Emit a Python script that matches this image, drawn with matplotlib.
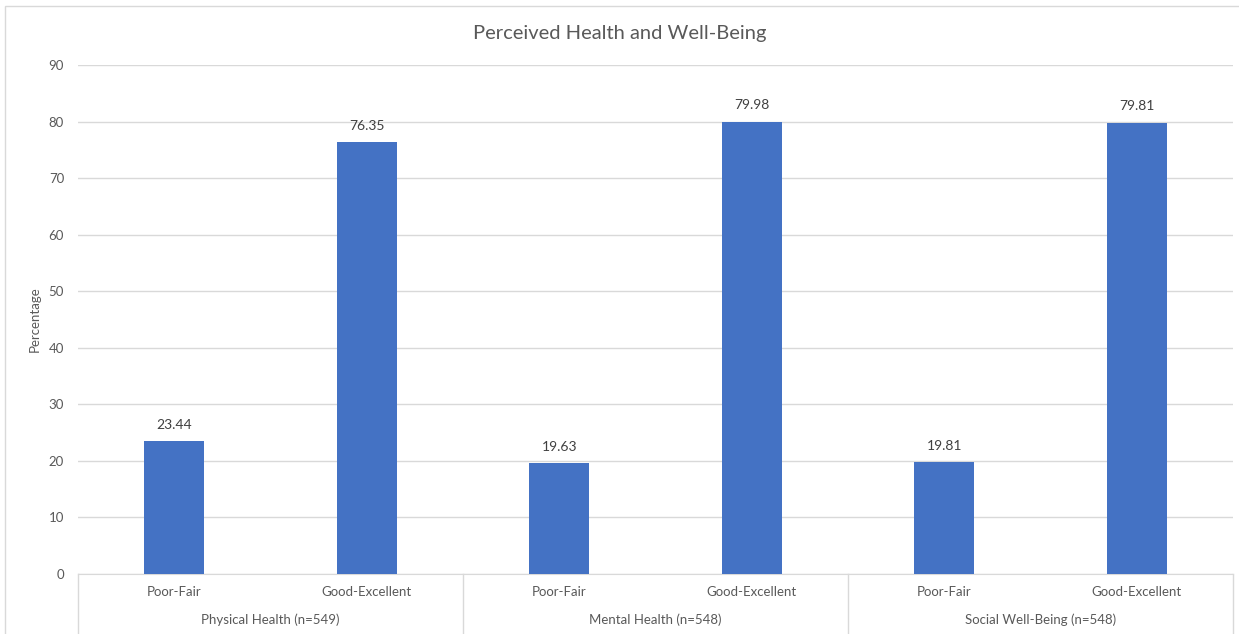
import matplotlib.pyplot as plt
import numpy as np
from matplotlib.patches import Rectangle

groups = ['Physical Health (n=549)', 'Mental Health (n=548)', 'Social Well-Being (n=548)']
levels = ['Poor-Fair', 'Good-Excellent']
values = [23.44, 76.35, 19.63, 79.98, 19.81, 79.81]

plt.rcParams['font.family'] = ['Lato', 'DejaVu Sans']
txt = '#595959'
grid = '#d9d9d9'

fig = plt.figure(figsize=(12.39, 6.34), dpi=100)
ax = fig.add_axes([78 / 1239, 1 - 574 / 634, (1233 - 78) / 1239, (574 - 65) / 634])

x = np.arange(len(values))
ax.bar(x, values, width=0.31, color='#4472C4', zorder=3)
for xi, v in zip(x, values):
    ax.text(xi, v + 1.8, f'{v:.2f}', ha='center', va='bottom', fontsize=10, color='#404040')

ax.set_xlim(-0.5, len(values) - 0.5)
ax.set_ylim(0, 90)
ax.set_yticks(range(0, 91, 10))
ax.yaxis.grid(True, color=grid, linewidth=1, zorder=0)
ax.tick_params(axis='y', length=0, labelsize=9.5, labelcolor=txt, pad=10)
ax.set_xticks([])
for s in ['top', 'right', 'left']:
    ax.spines[s].set_visible(False)
ax.spines['bottom'].set_color(grid)
ax.set_ylabel('Percentage', fontsize=9.5, color=txt, labelpad=6)

# two-level category axis
trans = ax.get_xaxis_transform()
for xi, lab in zip(x, levels * len(groups)):
    ax.text(xi, -0.035, lab, transform=trans, ha='center', va='center', fontsize=9.5, color=txt)
for gi, g in enumerate(groups):
    ax.text(gi * 2 + 0.5, -0.09, g, transform=trans, ha='center', va='center', fontsize=9.5, color=txt)
for b in np.arange(len(groups) + 1) * 2 - 0.5:
    ax.plot([b, b], [0, -0.2], transform=trans, color=grid, linewidth=1, clip_on=False)

fig.text(0.5, 1 - 33 / 634, 'Perceived Health and Well-Being', ha='center', va='center',
         fontsize=14.5, color=txt)

# chart border
fig.patches.append(Rectangle((5 / 1239, -0.1), 1.1, 1.1 - 6 / 634, transform=fig.transFigure,
                             fill=False, edgecolor=grid, linewidth=1))

fig.savefig('out.png', dpi=100)
